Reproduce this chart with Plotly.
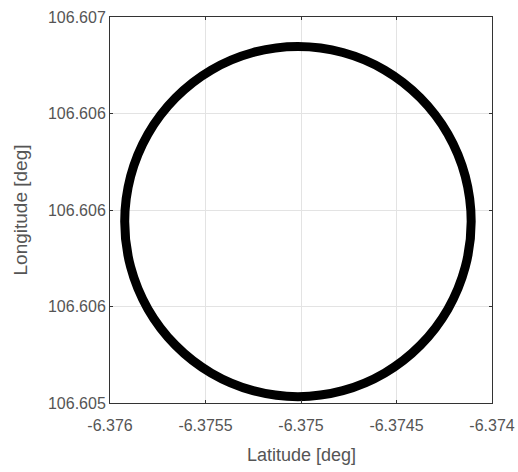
import plotly.graph_objects as go

# Track points (latitude, longitude in degrees)
latitude = [-6.374109, -6.374140, -6.374231, -6.374375, -6.374562, -6.374781,
            -6.375016, -6.375251, -6.375470, -6.375657, -6.375801, -6.375892,
            -6.375923, -6.375892, -6.375801, -6.375657, -6.375470, -6.375251,
            -6.375016, -6.374781, -6.374562, -6.374375, -6.374231, -6.374140,
            -6.374109]
longitude = [106.605940, 106.606175, 106.606394, 106.606581, 106.606725, 106.606816,
             106.606847, 106.606816, 106.606725, 106.606581, 106.606394, 106.606175,
             106.605940, 106.605705, 106.605486, 106.605299, 106.605155, 106.605064,
             106.605033, 106.605064, 106.605155, 106.605299, 106.605486, 106.605705,
             106.605940]

x_tickvals = [-6.376, -6.3755, -6.375, -6.3745, -6.374]
x_ticktext = ["-6.376", "-6.3755", "-6.375", "-6.3745", "-6.374"]
y_tickvals = [106.605, 106.6055, 106.606, 106.6065, 106.607]
y_ticktext = ["106.605", "106.606", "106.606", "106.606", "106.607"]

FONT = "Liberation Sans, Arial, sans-serif"

fig = go.Figure()
fig.add_trace(go.Scatter(
    x=latitude, y=longitude, mode="lines",
    line=dict(color="black", width=9, shape="spline", smoothing=1.0),
    hoverinfo="skip", showlegend=False,
))

axis_common = dict(
    showline=True, linecolor="#333333", linewidth=1, mirror="ticks",
    ticks="inside", ticklen=3, tickcolor="#333333",
    showgrid=True, gridcolor="#e3e3e3", gridwidth=1,
    zeroline=False, automargin=False,
    tickfont=dict(family=FONT, size=16, color="#555555"),
)

fig.update_layout(
    width=518, height=472,
    margin=dict(l=110, r=26, t=17, b=69),
    paper_bgcolor="white", plot_bgcolor="white",
    xaxis=dict(range=[-6.376, -6.374], tickmode="array", tickvals=x_tickvals,
               ticktext=x_ticktext, ticklabelstandoff=8, **axis_common),
    yaxis=dict(range=[106.605, 106.607], tickmode="array", tickvals=y_tickvals,
               ticktext=y_ticktext,
               title=dict(text="Longitude [deg]",
                          font=dict(family=FONT, size=19, color="#555555")),
               **axis_common),
    annotations=[dict(text="Latitude [deg]", xref="paper", yref="paper",
                      x=0.5, y=-0.135, xanchor="center", yanchor="middle",
                      showarrow=False,
                      font=dict(family=FONT, size=18, color="#555555"))],
)

fig.write_html("out.html", config={"displayModeBar": False},
               post_script="document.body.style.margin='0';")
